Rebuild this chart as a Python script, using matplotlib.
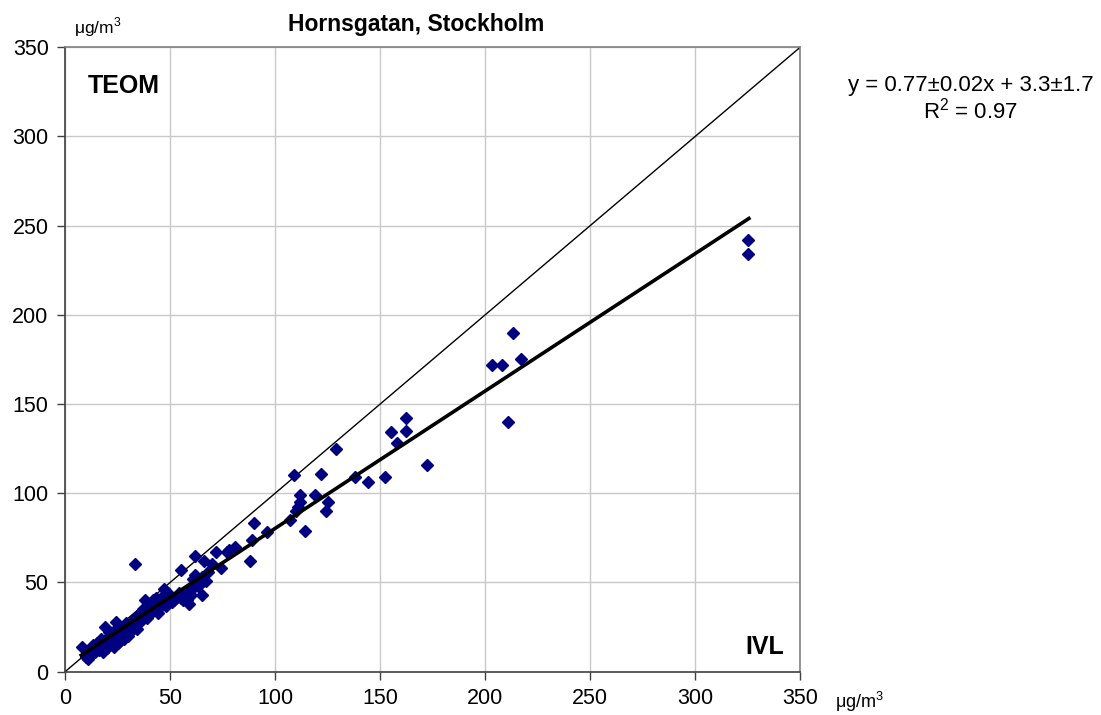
import matplotlib
matplotlib.use("Agg")
import matplotlib.pyplot as plt
import numpy as np

plt.rcParams['font.family'] = ['Liberation Sans', 'DejaVu Sans']
plt.rcParams['mathtext.fontset'] = 'custom'
plt.rcParams['mathtext.rm'] = 'Liberation Sans'

# IVL (x) vs TEOM (y), µg/m3
ivl = [8, 10, 11, 11, 12, 13, 14, 15, 16, 17, 17, 18, 18, 19, 20, 20, 21, 21, 22, 23,
       23, 24, 24, 25, 25, 26, 27, 27, 28, 29, 30, 30, 31, 32, 33, 33, 34, 35, 36, 37,
       38, 38, 39, 40, 41, 42, 42, 43, 44, 45, 46, 47, 48, 48, 49, 50, 51, 52, 53, 54,
       55, 55, 56, 57, 58, 59, 60, 61, 61, 62, 62, 63, 64, 65, 65, 66, 67, 68, 70, 72,
       74, 77, 78, 81, 88, 89, 90, 96, 107, 109, 110, 111, 112, 112, 114, 119, 122, 124,
       125, 129, 138, 144, 152, 155, 158, 162, 162, 172, 203, 208, 211, 213, 217, 325, 325,
       12, 14, 16, 19, 22, 26, 29, 35, 44, 47, 58, 63]
teom = [14, 8, 10, 7, 12, 15, 11, 16, 13, 14, 18, 11, 16, 25, 13, 19, 15, 22, 17, 14,
        20, 28, 24, 16, 22, 19, 21, 25, 18, 23, 20, 26, 22, 28, 60, 30, 24, 32, 29, 35,
        40, 33, 30, 36, 37, 34, 40, 41, 38, 36, 42, 46, 40, 37, 44, 42, 39, 40, 42, 44,
        57, 41, 40, 42, 40, 38, 43, 47, 52, 54, 65, 50, 49, 43, 53, 62, 51, 56, 60, 67,
        58, 67, 68, 70, 62, 74, 83, 78, 85, 110, 90, 92, 95, 99, 79, 99, 111, 90,
        95, 125, 109, 106, 109, 134, 128, 142, 135, 116, 172, 172, 140, 190, 175, 242, 234,
        9, 13, 12, 17, 20, 17, 27, 27, 33, 38, 45, 48]

slope, intercept = 0.77, 3.3
fit_x = [7.6, 325.5]

fig = plt.figure(figsize=(11.01, 7.15), dpi=100)
ax = fig.add_axes([0.0593, 0.0608, 0.6676, 0.8733])

ax.set_xlim(0, 350)
ax.set_ylim(0, 350)
ticks = np.arange(0, 351, 50)
ax.set_xticks(ticks)
ax.set_yticks(ticks)
ax.grid(True, color='#c8c8c8', linewidth=1.0)
ax.set_axisbelow(True)

ax.plot([0, 350], [0, 350], color='black', linewidth=1.0, zorder=2)
ax.plot(ivl, teom, linestyle='none', marker='D', markersize=5.8,
        markerfacecolor='#000080', markeredgecolor='#000080', zorder=3)
ax.plot(fit_x, [slope * v + intercept for v in fit_x], color='black', linewidth=2.6, zorder=4)

for s in ['top', 'right']:
    ax.spines[s].set_color('#808080')
    ax.spines[s].set_linewidth(1.2)
for s in ['left', 'bottom']:
    ax.spines[s].set_color('#404040')
    ax.spines[s].set_linewidth(1.2)
ax.tick_params(axis='both', direction='out', length=6, width=1.0, color='#404040',
               labelsize=15.5, pad=6)

ax.text(0.03, 0.938, 'TEOM', transform=ax.transAxes, fontsize=18, fontweight='bold',
        ha='left', va='center')
ax.text(0.978, 0.04, 'IVL', transform=ax.transAxes, fontsize=18, fontweight='bold',
        ha='right', va='center')

fig.text(416 / 1101, 1 - 25 / 715, 'Hornsgatan, Stockholm', fontsize=16.5, fontweight='bold',
         ha='center', va='center')
fig.text(74 / 1101, 1 - 27 / 715, 'μg/m$^{3}$', fontsize=12.5, ha='left', va='center')
fig.text(835 / 1101, 1 - 702 / 715, 'μg/m$^{3}$', fontsize=13, ha='left', va='center')

fig.text(971 / 1101, 1 - 86 / 715, 'y = 0.77±0.02x + 3.3±1.7', fontsize=16,
         ha='center', va='center')
fig.text(971 / 1101, 1 - 111 / 715, 'R$^{2}$ = 0.97', fontsize=16,
         ha='center', va='center')

fig.savefig('out.png', dpi=100)
